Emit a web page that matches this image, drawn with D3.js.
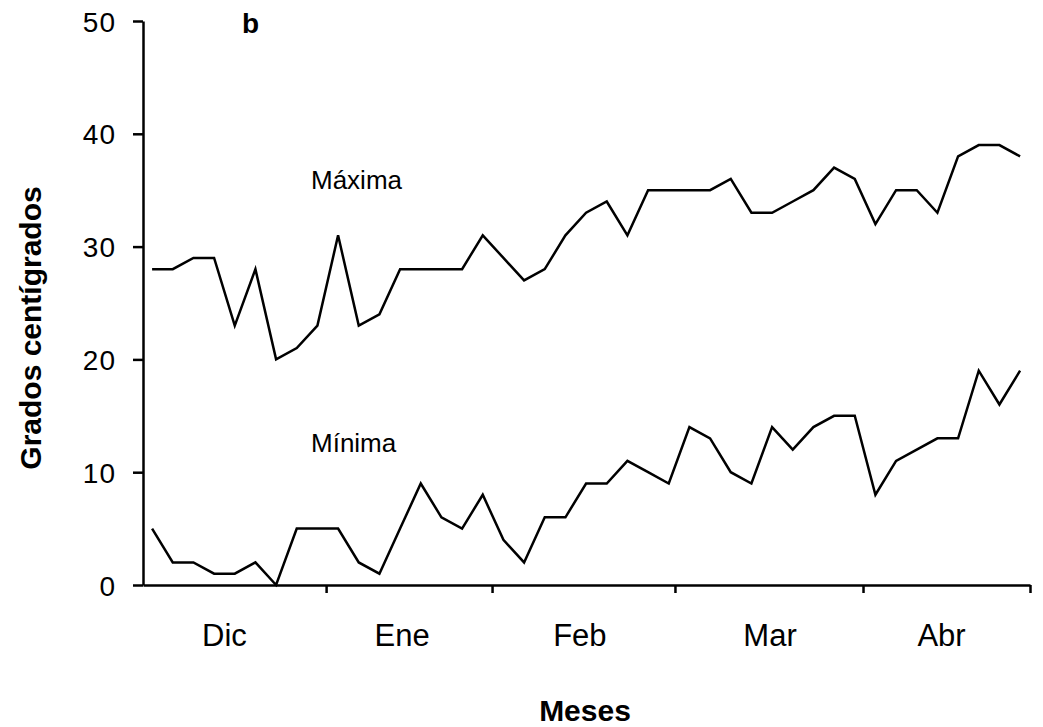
<!DOCTYPE html>
<meta charset="utf-8">
<style>
body { margin: 0; background: #fff; }
svg { display: block; font-family: "Liberation Sans", Arial, sans-serif; }
.axis path, .axis line { stroke: #000; stroke-width: 2.5px; }
.axis text { fill: #000; }
</style>
<svg width="1043" height="727"></svg>
<script src="https://d3js.org/d3.v7.min.js"></script>
<script>
// temperaturas (una muestra cada ~3.5 dias)
var maxima = [28,28,29,29,23,28,20,21,23,31,23,24,28,28,28,28,31,29,27,28,31,33,34,31,35,35,35,35,36,33,33,34,35,37,36,32,35,35,33,38,39,39,38];
var minima = [5,2,2,1,1,2,0,5,5,5,2,1,5,9,6,5,8,4,2,6,6,9,9,11,10,9,14,13,10,9,14,12,14,15,15,8,11,12,13,13,19,16,19];
var months = ["Dic","Ene","Feb","Mar","Abr"];
var monthPos = [3.5, 12.1, 20.7, 29.9, 38.2];     // centro de cada etiqueta (en indice de muestra)
var monthBounds = [8.42, 16.45, 25.3, 34.4, 42.48]; // marcas del eje x
var yTicks = [0,10,20,30,40,50];

var svg = d3.select("svg");

var x = d3.scaleLinear().domain([-0.44, 42.48]).range([143, 1030]);
var y = d3.scaleLinear().domain([0, 50]).range([585, 21]);

var line = d3.line()
    .x(function(d, i) { return x(i); })
    .y(function(d) { return y(d); });

// eje y
var gy = svg.append("g")
    .attr("class", "axis")
    .attr("transform", "translate(143,0)")
    .call(d3.axisLeft(y).tickValues(yTicks).tickSize(10).tickSizeOuter(0).tickPadding(17));
gy.selectAll("text").style("font-size", "28px").style("letter-spacing", "1px").attr("dy", "0.36em");

// eje x
var gx = svg.append("g")
    .attr("class", "axis")
    .attr("transform", "translate(0,585)")
    .call(d3.axisBottom(x).tickValues(monthBounds).tickSize(8).tickSizeOuter(0).tickFormat(""));

svg.append("g").selectAll("text")
    .data(months).enter().append("text")
    .attr("x", function(d, i) { return x(monthPos[i]); })
    .attr("y", 646)
    .attr("text-anchor", "middle")
    .style("font-size", "31px")
    .text(function(d) { return d; });

// lineas
svg.append("path").datum(maxima)
    .attr("fill", "none").attr("stroke", "#000").attr("stroke-width", 2.5)
    .attr("d", line);
svg.append("path").datum(minima)
    .attr("fill", "none").attr("stroke", "#000").attr("stroke-width", 2.5)
    .attr("d", line);

// textos
svg.append("text").attr("x", 311).attr("y", 189).style("font-size", "26px").text("Máxima");
svg.append("text").attr("x", 311).attr("y", 452).style("font-size", "26px").text("Mínima");
svg.append("text").attr("x", 242).attr("y", 33).style("font-size", "28px").style("font-weight", "bold").text("b");

svg.append("text")
    .attr("x", 585).attr("y", 721)
    .attr("text-anchor", "middle")
    .style("font-size", "30px").style("font-weight", "bold")
    .text("Meses");

svg.append("text")
    .attr("transform", "translate(41,328) rotate(-90)")
    .attr("text-anchor", "middle")
    .style("font-size", "30px").style("font-weight", "bold")
    .text("Grados centígrados");
</script>
